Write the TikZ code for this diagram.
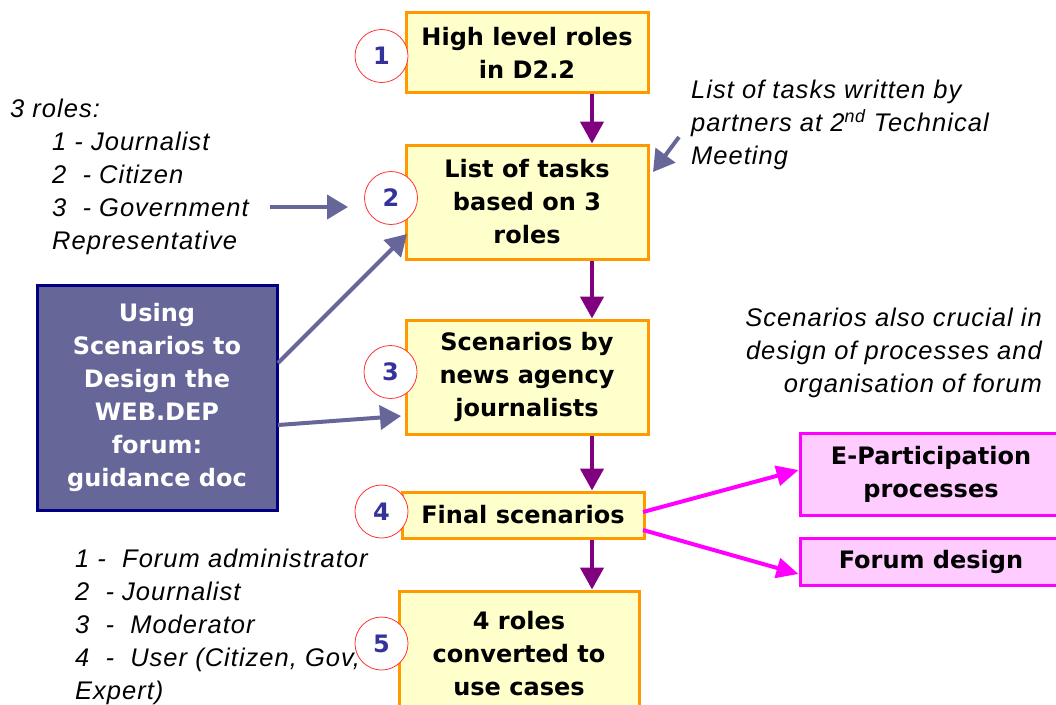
\documentclass[tikz,border=0pt]{standalone}
\usepackage{fontspec}
\setmainfont{Liberation Sans}
\newfontfamily\boxfont{DejaVu Sans}
\newfontfamily\notefont[LetterSpace=4]{Liberation Sans}
\usetikzlibrary{arrows.meta,calc}
\definecolor{boxfill}{HTML}{FFFFCC}
\definecolor{boxline}{HTML}{FF9900}
\definecolor{arrpurple}{HTML}{800080}
\definecolor{slate}{HTML}{666699}
\definecolor{navyline}{HTML}{000080}
\definecolor{pinkfill}{HTML}{FFCCFF}
\definecolor{magline}{HTML}{FF00FF}
\definecolor{numblue}{HTML}{333399}
\definecolor{ringred}{HTML}{FF3333}
\begin{document}
\begin{tikzpicture}[x=1pt,y=-1pt,
  stepbox/.style={draw=boxline,fill=boxfill,line width=3pt,
    font=\boxfont\bfseries\fontsize{24}{33}\selectfont,align=center,inner sep=0pt},
  pinkbox/.style={draw=magline,fill=pinkfill,line width=3pt,
    font=\boxfont\bfseries\fontsize{24}{33}\selectfont,align=center,inner sep=0pt},
  guidebox/.style={draw=navyline,fill=slate,line width=3pt,text=white,
    font=\boxfont\bfseries\fontsize{24}{33}\selectfont,align=center,inner sep=0pt},
  numring/.style={circle,draw=ringred,line width=0.8pt,fill=white,minimum size=53pt,
    inner sep=0pt,text=numblue,font=\boxfont\bfseries\fontsize{24}{26}\selectfont},
  note/.style={inner sep=0pt,font=\notefont\itshape\fontsize{25.5}{33}\selectfont},
  flowarr/.style={draw=arrpurple,line width=4.5pt,-{Triangle[length=22pt,width=23pt]}},
  slatearr/.style={draw=slate,line width=4pt,-{Triangle[length=21pt,width=24pt]}},
  magarr/.style={draw=magline,line width=4pt,-{Triangle[length=22pt,width=20pt]}}
]
\useasboundingbox (0,0) rectangle (1056,704);

% main flow boxes
\node[stepbox,minimum width=242pt,minimum height=80pt] (b1) at (527,52.5) {High level roles\\in D2.2};
\node[stepbox,minimum width=242pt,minimum height=114pt] (b2) at (527,202) {List of tasks\\based on 3\\roles};
\node[stepbox,minimum width=242pt,minimum height=114pt] (b3) at (527,377) {Scenarios by\\news agency\\journalists};
\node[stepbox,minimum width=242pt,minimum height=46pt] (b4) at (523,515) {Final scenarios};
\node[stepbox,minimum width=240pt,minimum height=124pt,text depth=0pt] (b5) at (519,653) {4 roles\\converted to\\use cases};

% guidance box
\node[guidebox,minimum width=240pt,minimum height=225pt] (guide) at (157,397.5)
  {Using\\Scenarios to\\Design the\\WEB.DEP\\forum:\\guidance doc};

% pink boxes
\node[pinkbox,minimum width=262pt,minimum height=82pt] (ep) at (931,474) {E-Participation\\processes};
\node[pinkbox,minimum width=262pt,minimum height=47pt] (fd) at (931,562) {Forum design};

% number rings
\node[numring] (n1) at (381.5,56) {1};
\node[numring] (n2) at (391,198) {2};
\node[numring] (n3) at (390.5,372) {3};
\node[numring] (n4) at (381.5,511.5) {4};
\node[numring] (n5) at (381.5,643.5) {5};

% notes
\node[note,anchor=north west,align=left] (roles3) at (10,99)
  {3 roles:\\
   \hspace*{42pt}1 - Journalist\\
   \hspace*{42pt}2\ \ - Citizen\\
   \hspace*{42pt}3\ \ - Government\\
   \hspace*{42pt}Representative};
\node[note,anchor=north west,align=left] (roles4) at (75,549)
  {1 -\ \ Forum administrator\\
   2\ \ - Journalist\\
   3\ \ -\ \ Moderator\\
   4\ \ -\ \ User (Citizen, Gov,\\
   Expert)};
\node[note,anchor=north west,align=left] (tasksnote) at (691,80)
  {List of tasks written by\\
   partners at 2\textsuperscript{nd} Technical\\
   Meeting};
\node[note,anchor=north east,align=right] (crucial) at (1042,308)
  {Scenarios also crucial in\\
   design of processes and\\
   organisation of forum};

% flow arrows
\coordinate (ax) at (592,0);
\draw[flowarr] (b1.south -| ax) -- (b2.north -| ax);
\draw[flowarr] (b2.south -| ax) -- (b3.north -| ax);
\draw[flowarr] (b3.south -| ax) -- (b4.north -| ax);
\draw[flowarr] (b4.south -| ax) -- (b5.north -| ax);

% slate arrows
\coordinate (r3end) at (270,207);
\coordinate (r3tip) at (348,207);
\draw[slatearr] (r3end) -- (r3tip);
\coordinate (g1) at (278,363);
\coordinate (g1tip) at (407,234);
\draw[slatearr] (g1) -- (g1tip);
\coordinate (g2) at (278,425);
\coordinate (g2tip) at (401,416);
\draw[slatearr] (g2) -- (g2tip);
\coordinate (t1) at (679,137);
\coordinate (t1tip) at (653,172);
\draw[slatearr] (t1) -- (t1tip);

% magenta arrows
\coordinate (m1) at (643,512);
\coordinate (m2) at (643,530);
\draw[magarr] (m1) -- (ep.west |- 0,470);
\draw[magarr] (m2) -- (fd.west |- 0,574);
\end{tikzpicture}
\end{document}
